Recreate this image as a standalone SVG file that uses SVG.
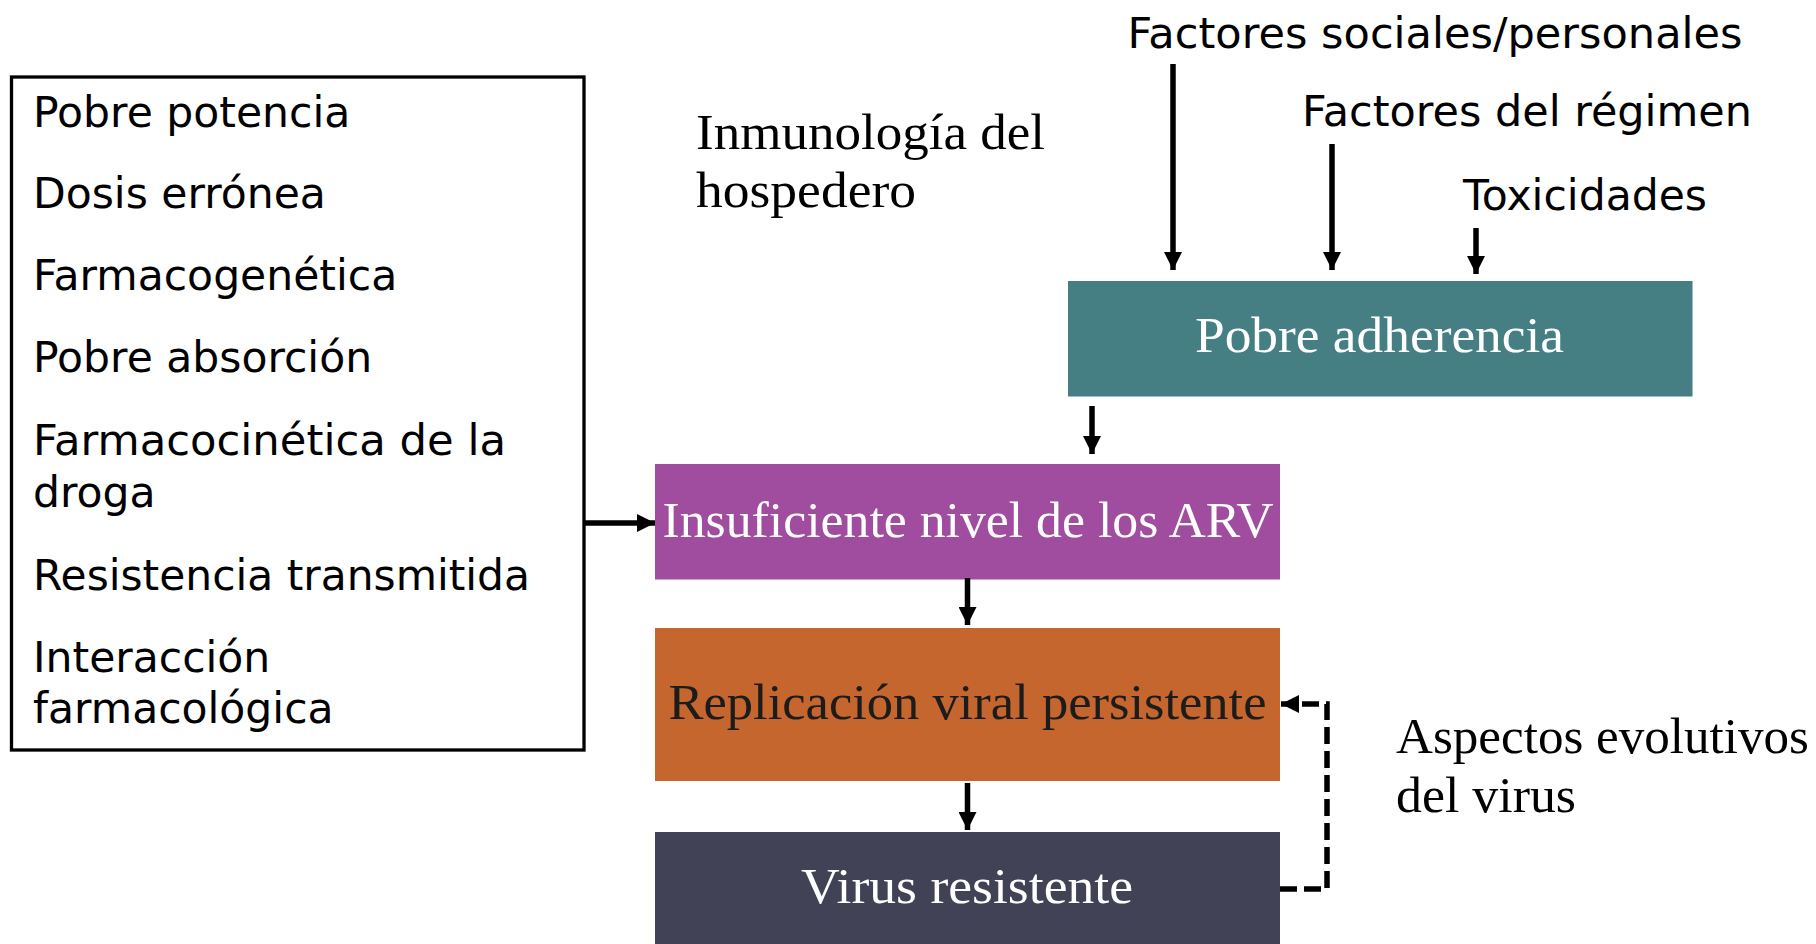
<svg xmlns="http://www.w3.org/2000/svg" width="1816" height="944" viewBox="0 0 1816 944">
<style>
.sans{font-family:"DejaVu Sans","Liberation Sans",sans-serif;font-size:42.5px;fill:#000}
.serif{font-family:"Liberation Serif","DejaVu Serif",serif;font-size:50px;fill:#000}
.box-text{font-family:"Liberation Serif","DejaVu Serif",serif;font-size:51px;text-anchor:start}
.conn{stroke:#000;stroke-width:5.5;fill:none}
.dash{stroke:#000;stroke-width:5.5;fill:none;stroke-dasharray:17 7}
</style>
<defs>
<marker id="ah" viewBox="0 0 18 18" refX="18" refY="9" markerWidth="18" markerHeight="18" markerUnits="userSpaceOnUse" orient="auto">
<path d="M0,0 L18,9 L0,18 z" fill="#000"/>
</marker>
</defs>
<rect width="1816" height="944" fill="#fff"/>

<g id="factores-list">
<rect x="11.5" y="77" width="572.5" height="673" fill="none" stroke="#000" stroke-width="3.3"/>
<text class="sans" x="33" y="127">Pobre potencia</text>
<text class="sans" x="33" y="208">Dosis errónea</text>
<text class="sans" x="33" y="290">Farmacogenética</text>
<text class="sans" x="33" y="372">Pobre absorción</text>
<text class="sans" x="33" y="455" textLength="473" lengthAdjust="spacingAndGlyphs">Farmacocinética de la</text>
<text class="sans" x="33" y="507">droga</text>
<text class="sans" x="33" y="590" textLength="497" lengthAdjust="spacingAndGlyphs">Resistencia transmitida</text>
<text class="sans" x="33" y="672">Interacción</text>
<text class="sans" x="33" y="723">farmacológica</text>
</g>

<g id="label-inmunologia">
<text class="serif" x="696" y="149" textLength="349" lengthAdjust="spacingAndGlyphs">Inmunología del</text>
<text class="serif" x="696" y="207" textLength="220" lengthAdjust="spacingAndGlyphs">hospedero</text>
</g>

<g id="label-sociales">
<text class="sans" x="1127.5" y="47.5" font-size="44" textLength="615" lengthAdjust="spacingAndGlyphs">Factores sociales/personales</text>
</g>
<g id="label-regimen">
<text class="sans" x="1302" y="126" font-size="44" textLength="450" lengthAdjust="spacingAndGlyphs">Factores del régimen</text>
</g>
<g id="label-toxicidades">
<text class="sans" x="1463" y="210" font-size="44" textLength="244" lengthAdjust="spacingAndGlyphs">Toxicidades</text>
</g>

<g id="node-adherencia">
<rect x="1068" y="281" width="624.5" height="115.5" fill="#457F84"/>
<text class="box-text" x="1195" y="352" fill="#fff" textLength="369" lengthAdjust="spacingAndGlyphs">Pobre adherencia</text>
</g>

<g id="node-arv">
<rect x="655" y="464" width="625" height="115.5" fill="#A04DA0"/>
<text class="box-text" x="662.5" y="537" fill="#fff" textLength="611" lengthAdjust="spacingAndGlyphs">Insuficiente nivel de los ARV</text>
</g>

<g id="node-replicacion">
<rect x="655" y="628" width="625" height="153" fill="#C4662D"/>
<text class="box-text" x="668.5" y="719" fill="#1c1c1c" textLength="598" lengthAdjust="spacingAndGlyphs">Replicación viral persistente</text>
</g>

<g id="node-virus">
<rect x="655" y="832" width="625" height="112" fill="#414255"/>
<text class="box-text" x="801" y="903" fill="#fff" textLength="332" lengthAdjust="spacingAndGlyphs">Virus resistente</text>
</g>

<g id="label-aspectos">
<text class="serif" x="1396" y="753" font-size="48" textLength="413" lengthAdjust="spacingAndGlyphs">Aspectos evolutivos</text>
<text class="serif" x="1396" y="812" font-size="48" textLength="180" lengthAdjust="spacingAndGlyphs">del virus</text>
</g>

<g id="connectors">
<line class="conn" x1="1173" y1="64" x2="1173" y2="270" marker-end="url(#ah)"/>
<line class="conn" x1="1332" y1="144" x2="1332" y2="270" marker-end="url(#ah)"/>
<line class="conn" x1="1476" y1="228" x2="1476" y2="274" marker-end="url(#ah)"/>
<line class="conn" x1="1092" y1="406" x2="1092" y2="454" marker-end="url(#ah)"/>
<line class="conn" x1="584" y1="523" x2="655" y2="523" marker-end="url(#ah)"/>
<line class="conn" x1="967.5" y1="578" x2="967.5" y2="625" marker-end="url(#ah)"/>
<line class="conn" x1="967.5" y1="783" x2="967.5" y2="830" marker-end="url(#ah)"/>
<path class="dash" d="M1280,889 H1327 V704 H1281" marker-end="url(#ah)"/>
</g>
</svg>
